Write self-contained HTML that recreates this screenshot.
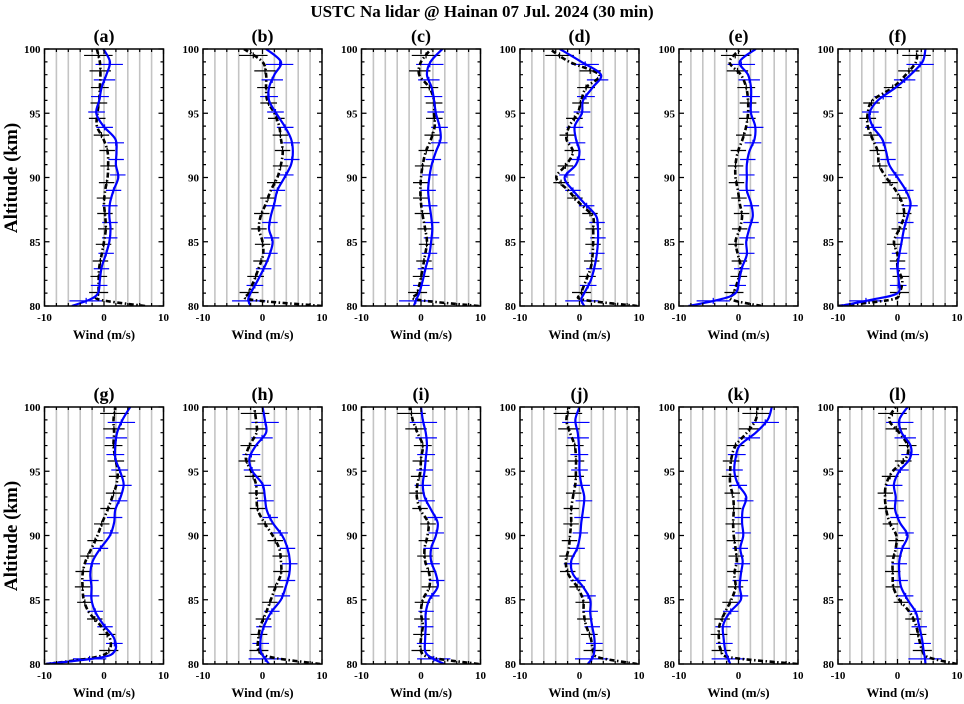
<!DOCTYPE html>
<html><head><meta charset="utf-8"><style>
html,body{margin:0;padding:0;background:#fff;}
svg{display:block;font-family:"Liberation Serif",serif;font-weight:bold;}
</style></head><body>
<svg id="chart" width="964" height="704" viewBox="0 0 964 704" xmlns="http://www.w3.org/2000/svg">
<text x="482" y="17" text-anchor="middle" font-size="17">USTC Na lidar @ Hainan 07 Jul. 2024 (30 min)</text>
<text transform="translate(17,178) rotate(-90)" text-anchor="middle" font-size="19">Altitude (km)</text>
<text transform="translate(17,536) rotate(-90)" text-anchor="middle" font-size="19">Altitude (km)</text>
</svg>
<script>
const altitudes=[80,80.5,81,82,83,84,85,86,87,88,89,90,91,92,93,94,95,96,97,98,99,100];
const panelLabels=['(a)','(b)','(c)','(d)','(e)','(f)','(g)','(h)','(i)','(j)','(k)','(l)'];
const xTicks=[-10,0,10];
const yTicks=[80,85,90,95,100];
const blackBarAlts=[81.05,82.3,83.5,84.8,86.0,87.2,88.4,89.6,90.9,92.1,93.3,94.6,95.8,97.0,98.3,99.5];
const blueBarAlts=[80.4,81.6,82.9,84.1,85.3,86.5,87.8,89.0,90.2,91.4,92.7,93.9,95.1,96.3,97.6,98.8];
const blackErr=[1.6,1.4,1.3,1.3,1.3,1.3,1.3,1.3,1.3,1.3,1.3,1.4,1.4,1.5,1.8,2.4];
const blueErr=[2.8,1.4,1.3,1.3,1.3,1.3,1.3,1.3,1.3,1.3,1.4,1.4,1.4,1.5,1.8,2.3];
// values listed from 80 km up to 100 km
const blackA=[6.9,-0.8,-0.9,-0.9,-0.8,-0.4,0,0.3,0.2,0,0.2,0.6,0.7,0.6,-0.1,-1.2,-1.1,-0.8,-0.7,-0.6,-0.7,-1.2];
const blueA=[-5.4,-2.4,-1.0,-0.7,-0.4,0.3,0.9,1.1,0.9,1.0,1.6,2.4,2.0,2.1,1.9,-0.1,-1.3,-0.8,-0.4,0.4,1.0,-0.1];
const blackB=[10,-2,-2.3,-1.4,-0.6,0.1,0,-0.6,-0.3,0.6,1.4,2.5,3.1,3.4,3.1,2.8,2.0,0.8,0.6,0.6,0,-3.1];
const blueB=[-2,-2.4,-2.0,-0.8,0.3,1.2,1.7,1.1,1.4,2.0,2.5,3.7,4.8,5.1,4.8,3.7,2.3,1.1,1.1,2.0,3.1,0.6];
const blackC=[9.7,-0.7,-0.6,-0.1,0.3,0.7,1.0,0.7,0.3,0,-0.1,0,0.3,0.8,1.7,2.3,2.2,2.2,1.4,-0.3,0,1.7];
const blueC=[-1.2,-0.8,-0.3,0.3,0.8,1.4,1.7,1.9,1.7,1.4,1.2,1.4,1.8,2.5,3.3,3.1,2.5,2.2,1.8,1.0,1.6,3.6];
const blackD=[9.7,0.5,0.3,1.1,1.9,2.2,2.3,2.3,2.2,0,-1.9,-3.9,-2.2,-1.1,-2.2,-1.7,-0.3,0.3,1.1,3.3,-1.7,-5];
const blueD=[0.8,0.3,0.8,1.9,2.5,2.9,3.1,3.1,2.8,0.8,-1.1,-2.5,-0.6,0,-0.6,-0.8,0.4,0.6,2.2,3.6,0.3,-3.3];
const blackE=[3.8,-1.2,-0.8,-0.1,0.4,-0.1,-0.5,0.2,0.6,0.2,-0.1,-0.5,-0.5,-0.1,0.7,1.3,1.6,1.6,1.3,0.4,-1.5,0.4];
const blueE=[-8.4,-3.2,-0.5,0.1,0.6,1.4,1.3,1.8,2.4,2.1,1.4,1.4,1.4,1.8,2.7,2.8,2.1,2.1,2.1,1.6,0.2,2.9];
const blackF=[-10,-1,0.3,0.8,0,0,-0.6,0.3,1.1,0.8,-0.3,-1.9,-3.1,-3.3,-4.2,-5,-5,-4.2,-0.8,1.4,3.1,3.3];
const blueF=[-9.7,-4.2,0,0.2,0,0.3,0.7,1.1,1.7,2.2,1.4,0,-1.4,-1.9,-2.6,-4.2,-4.7,-3.3,-0.3,2.2,4.2,4.7];
const blackG=[-9.7,-1.7,0.8,1.0,-0.6,-2.5,-3.4,-3.6,-3.6,-3.1,-2.1,-1.1,-0.3,0.6,1.4,2.1,2.3,1.9,1.6,1.7,1.6,1.9];
const blueG=[-9.7,-0.6,1.8,1.7,0,-1.4,-2.1,-2.1,-2.3,-1.9,-0.6,1.0,1.7,1.9,2.8,3.3,2.7,1.9,1.9,2.2,3.1,4.4];
const blackH=[9.7,1.7,-0.6,-0.7,-0.3,0.6,1.4,2.2,3.1,3.1,2.8,1.7,0.3,-0.8,-1.0,-1.1,-1.9,-2.8,-2.2,-1.0,-1.1,-1.4];
const blueH=[1.1,0.3,-0.3,-0.3,0.3,1.4,3.1,3.9,4.5,4.6,4.2,3.3,1.7,0.7,0.4,0,-1.7,-2.2,-1.1,0.6,0.4,0];
const blackI=[9.7,1.7,0,0,0.3,0,0.3,1.4,1.4,0.7,0.6,1.1,1.2,-0.1,-0.7,-0.6,-0.1,0,0.3,-0.6,-1.4,-1.8];
const blueI=[3.9,1.7,0.7,0.7,0.8,0.8,1.4,2.8,2.5,1.7,1.7,2.5,2.8,1.7,0.6,0.3,0.6,0.8,1.0,0.8,0.3,0];
const blackJ=[9.7,3.3,2.3,1.9,1.1,0.7,0.6,-0.4,-1.9,-2.3,-1.8,-1.6,-1.4,-1.4,-1.1,-0.7,-0.6,-0.6,-0.8,-1.6,-2.2,-1.7];
const blueJ=[1.4,2.2,2.5,2.5,2.1,1.8,1.8,0.6,-1.1,-1.4,-0.4,0.1,0.3,0.6,0.8,0.3,0,0,-0.1,-0.3,-0.7,0];
const blackK=[9.9,-1.2,-2.9,-3.3,-3.2,-2.3,-1.2,-0.5,-0.7,-0.3,-0.5,-0.8,-0.9,-0.8,-0.9,-1.4,-1.4,-1.2,-0.5,1.4,2.9,3.2];
const blueK=[-1.4,-1.8,-2.2,-2.5,-2.6,-1.5,0.4,0.2,0.4,0.7,0.3,0.8,0.6,0.7,1.3,-0.1,-0.7,-0.5,0.2,2.9,4.9,5.6];
const blackL=[10,5.3,4.2,3.6,3.1,2.1,0.3,-0.7,-0.8,-0.8,-0.3,-0.2,-1.3,-1.9,-2.1,-1.9,-0.8,1.4,1.7,0.3,-1.4,-0.3];
const blueL=[4.7,4.6,4.4,4.1,3.6,3.1,1.7,0.6,0.3,0.3,0.8,1.7,0.4,-0.4,-0.3,-0.6,0.3,2.1,2.2,0.7,0.3,1.7];

const blackSeries=[blackA,blackB,blackC,blackD,blackE,blackF,blackG,blackH,blackI,blackJ,blackK,blackL];
const blueSeries=[blueA,blueB,blueC,blueD,blueE,blueF,blueG,blueH,blueI,blueJ,blueK,blueL];

const NS='http://www.w3.org/2000/svg';
const svg=document.getElementById('chart');
const lefts=[44.5,203,361.5,520,679,838];
const W=119;
const tops=[49,407];const H=257;
function mk(tag,attrs,parent){const e=document.createElementNS(NS,tag);for(const k in attrs)e.setAttribute(k,attrs[k]);(parent||svg).appendChild(e);return e;}
function smoothPath(pts){
  let d='M'+pts[0][0].toFixed(2)+','+pts[0][1].toFixed(2);
  for(let i=0;i<pts.length-1;i++){
    const p0=pts[Math.max(0,i-1)],p1=pts[i],p2=pts[i+1],p3=pts[Math.min(pts.length-1,i+2)];
    const c1=[p1[0]+(p2[0]-p0[0])/6,p1[1]+(p2[1]-p0[1])/6];
    const c2=[p2[0]-(p3[0]-p1[0])/6,p2[1]-(p3[1]-p1[1])/6];
    d+=' C'+c1[0].toFixed(2)+','+c1[1].toFixed(2)+' '+c2[0].toFixed(2)+','+c2[1].toFixed(2)+' '+p2[0].toFixed(2)+','+p2[1].toFixed(2);
  }
  return d;
}
function interp(series,a){
  for(let i=0;i<altitudes.length-1;i++){
    if(a>=altitudes[i]&&a<=altitudes[i+1]){const t=(a-altitudes[i])/(altitudes[i+1]-altitudes[i]);return series[i]+(series[i+1]-series[i])*t;}
  }
  return series[series.length-1];
}
for(let p=0;p<12;p++){
  const row=Math.floor(p/6),col=p%6;
  const L=lefts[col],T=tops[row];
  const xs=v=>L+(v+10)/20*W;
  const ys=a=>T+(100-a)/20*H;
  const g=mk('g',{});
  
  
  const clipId='clip'+p;
  const cp=mk('clipPath',{id:clipId},g);mk('rect',{x:L,y:T,width:W,height:H},cp);
  for(let v=-8;v<=8;v+=2){
    const gl=mk('line',{x1:xs(v),x2:xs(v),y1:T,y2:T+H,stroke:'#c4c4c4','stroke-width':1.6},g);
    
    
  }
  const plot=mk('g',{'clip-path':'url(#'+clipId+')'},g);
  // black error bars
  blackBarAlts.forEach((a,i)=>{
    const v=interp(blackSeries[p],a),y=ys(a),e=blackErr[i];
    const b=mk('path',{d:'M'+xs(v-e)+','+y+'H'+xs(v+e)+'M'+xs(v)+','+(y-3)+'V'+(y+3),stroke:'#000','stroke-width':1.2,fill:'none'},plot);
    
    
  });
  blueBarAlts.forEach((a,i)=>{
    const v=interp(blueSeries[p],a),y=ys(a),e=blueErr[i];
    const b=mk('path',{d:'M'+xs(v-e)+','+y+'H'+xs(v+e)+'M'+xs(v)+','+(y-3)+'V'+(y+3),stroke:'#0000ff','stroke-width':1.2,fill:'none'},plot);
    
    
  });
  const bp=mk('path',{d:smoothPath(altitudes.map((a,i)=>[xs(blackSeries[p][i]),ys(a)])),stroke:'#000','stroke-width':2.6,fill:'none','stroke-dasharray':'5,2.5,1.5,2.5'},plot);
  
  
  const lp=mk('path',{d:smoothPath(altitudes.map((a,i)=>[xs(blueSeries[p][i]),ys(a)])),stroke:'#0000ff','stroke-width':2.2,fill:'none'},plot);
  
  
  // frame
  const fr=mk('rect',{x:L,y:T,width:W,height:H,fill:'none',stroke:'#000','stroke-width':1.5},g);
  
  
  // ticks
  let td='';
  for(let a=80;a<=100;a++){const y=ys(a);const len=(a%5===0)?5:3;td+='M'+L+','+y+'h'+len+'M'+(L+W)+','+y+'h'+(-len);}
  for(let v=-10;v<=10;v+=2){const x=xs(v);const len=(v%10===0)?5:3;td+='M'+x+','+(T+H)+'v'+(-len)+'M'+x+','+T+'v'+len;}
  const tk=mk('path',{d:td,stroke:'#000','stroke-width':1.2,fill:'none'},g);
  
  
  yTicks.forEach(a=>{
    const t=mk('text',{x:L-4,y:ys(a)+4,'text-anchor':'end','font-size':11},g);t.textContent=a;
    
    
  });
  xTicks.forEach(v=>{
    const t=mk('text',{x:xs(v),y:T+H+15,'text-anchor':'middle','font-size':11},g);t.textContent=v;
    
    
  });
  const xt=mk('text',{x:L+W/2,y:T+H+33,'text-anchor':'middle','font-size':13},g);xt.textContent='Wind (m/s)';
  
  
  const pt=mk('text',{x:L+W/2,y:T-7,'text-anchor':'middle','font-size':18},g);pt.textContent=panelLabels[p];
  
  
}
</script>
</body></html>
